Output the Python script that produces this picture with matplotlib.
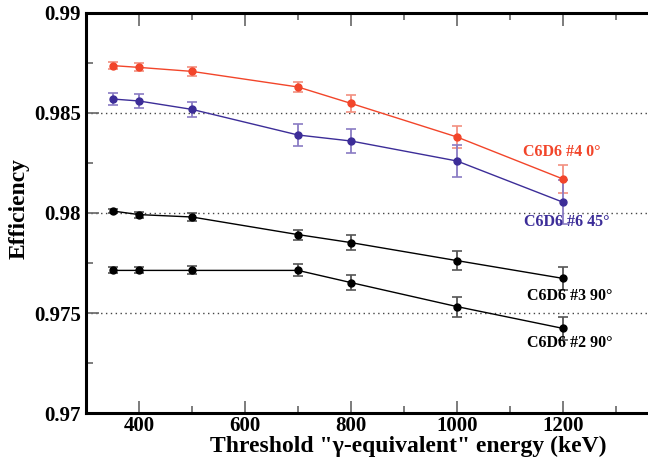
import numpy as np
import matplotlib.pyplot as plt
from matplotlib.ticker import MultipleLocator

# threshold energies (keV)
energy = [350, 400, 500, 700, 800, 1000, 1200]

# efficiencies and errors
eff_4 = [0.98737, 0.98728, 0.98708, 0.98630, 0.98548, 0.98380, 0.98170]
err_4 = [0.00018, 0.00020, 0.00022, 0.00027, 0.00043, 0.00053, 0.00068]

eff_6 = [0.98570, 0.98560, 0.98518, 0.98390, 0.98360, 0.98260, 0.98054]
err_6 = [0.00030, 0.00033, 0.00037, 0.00055, 0.00062, 0.00080, 0.00110]

eff_3 = [0.98010, 0.97992, 0.97980, 0.97892, 0.97852, 0.97762, 0.97673]
err_3 = [0.00010, 0.00015, 0.00018, 0.00025, 0.00036, 0.00046, 0.00058]

eff_2 = [0.97713, 0.97713, 0.97713, 0.97713, 0.97652, 0.97532, 0.97423]
err_2 = [0.00015, 0.00015, 0.00020, 0.00030, 0.00036, 0.00050, 0.00058]

labels = ["C6D6 #4 0°", "C6D6 #6 45°", "C6D6 #3 90°", "C6D6 #2 90°"]

plt.rcParams['font.family'] = ['Liberation Serif', 'DejaVu Serif']
plt.rcParams['font.weight'] = 'bold'

fig = plt.figure(figsize=(6.48, 4.59), dpi=100)
ax = fig.add_axes([86 / 648, 0.1002, 583 / 648, 0.8715])

series = [
    (eff_4, err_4, '#f2452a', '#f29080'),
    (eff_6, err_6, '#3c2d98', '#8a7cc4'),
    (eff_3, err_3, 'black', '#555555'),
    (eff_2, err_2, 'black', '#555555'),
]
for y, e, c, ec in series:
    ax.errorbar(energy, y, yerr=e, color=c, ecolor=ec, lw=1.0, elinewidth=1.3,
                marker='o', markersize=5, capsize=3.5, capthick=1.2, zorder=3)

# grid lines
for g in [0.985, 0.98, 0.975]:
    ax.axhline(g, color='#444444', lw=1.0, ls=(0, (1, 2.5)), zorder=1)

# series labels
ax.text(1125, 0.98305, labels[0], color='#f2452a', fontsize=11.5, fontweight='bold', va='center')
ax.text(1127, 0.97955, labels[1], color='#3c2d98', fontsize=11.5, fontweight='bold', va='center')
ax.text(1132, 0.97585, labels[2], color='black', fontsize=11.5, fontweight='bold', va='center')
ax.text(1132, 0.97350, labels[3], color='black', fontsize=11.5, fontweight='bold', va='center')

ax.set_xlim(300, 1400)
ax.set_ylim(0.97, 0.99)
ax.xaxis.set_major_locator(MultipleLocator(200))
ax.xaxis.set_minor_locator(MultipleLocator(100))
ax.yaxis.set_major_locator(MultipleLocator(0.005))
ax.yaxis.set_minor_locator(MultipleLocator(0.0025))
ax.set_xticks([400, 600, 800, 1000, 1200])
ax.set_yticks([0.97, 0.975, 0.98, 0.985, 0.99])
ax.set_yticklabels(['0.97', '0.975', '0.98', '0.985', '0.99'])

ax.tick_params(which='both', direction='in', top=True, right=True,
               color='#666666', labelsize=15, width=1.2)
ax.tick_params(which='major', length=9)
ax.tick_params(which='minor', length=5)
ax.tick_params(axis='x', pad=2)
for lab in ax.get_xticklabels() + ax.get_yticklabels():
    lab.set_fontweight('bold')
for s in ax.spines.values():
    s.set_linewidth(2.2)

ax.set_xlabel('Threshold "γ-equivalent" energy (keV)', fontsize=17, fontweight='bold')
ax.xaxis.set_label_coords(0.552, -0.057)
ax.set_ylabel('Efficiency', fontsize=17, fontweight='bold')
ax.yaxis.set_label_coords(-0.097, 0.512)

fig.savefig('out.png', dpi=100)
